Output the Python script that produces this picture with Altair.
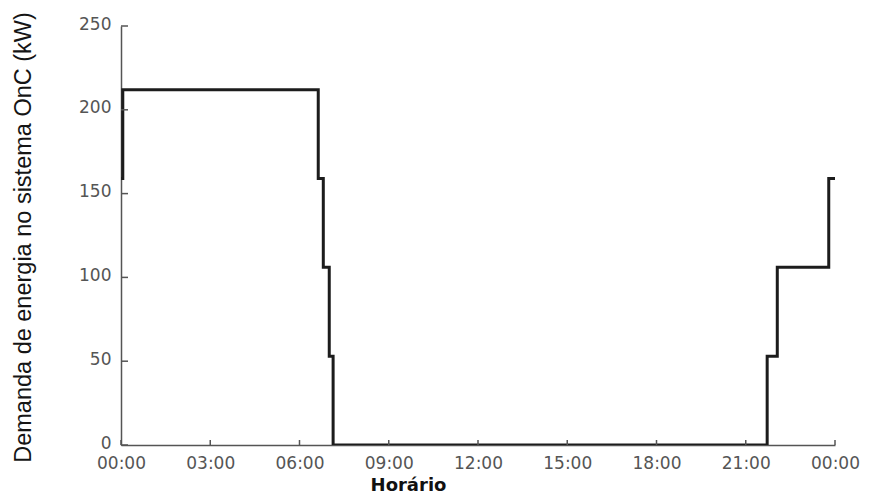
import altair as alt
import pandas as pd

# Step profile of the OnC system demand (hours of day, kW)
hours = [0.0, 0.06, 6.63, 6.80, 7.00, 7.13, 21.72, 22.06, 23.79, 24.0]
demand_kw = [159, 212, 159, 106, 53, 0, 53, 106, 159, 159]

x_ticks = [0, 3, 6, 9, 12, 15, 18, 21, 24]
y_ticks = [0, 50, 100, 150, 200, 250]

df = pd.DataFrame({"h": hours, "kw": demand_kw})
xt = pd.DataFrame({"t": x_ticks})
yt = pd.DataFrame({"v": y_ticks})

W, H = 714, 419
GRAY = "#555555"

x_scale = alt.Scale(domain=[0, 24], nice=False, zero=False)
y_scale = alt.Scale(domain=[0, 250], nice=False)

x_axis = alt.Axis(
    values=x_ticks,
    labelExpr="(datum.value % 24 < 10 ? '0' : '') + (datum.value % 24) + ':00'",
    ticks=False, tickSize=0, grid=False,
    domainColor=GRAY, domainWidth=1.5,
    labelFont="DejaVu Sans", labelFontSize=17, labelColor=GRAY, labelPadding=10,
    labelOverlap=False, labelFlush=False,
    title="Horário", titleFont="DejaVu Sans", titleFontSize=18, titleFontWeight="bold",
    titleColor="#111111", titleX=287, titleY=45, titleBaseline="alphabetic", titleAnchor="start",
    titleAlign="center",
)
y_axis = alt.Axis(
    values=y_ticks,
    ticks=False, tickSize=0, grid=False,
    domainColor=GRAY, domainWidth=1.5,
    labelFont="DejaVu Sans", labelFontSize=17, labelColor=GRAY, labelPadding=10,
    labelOffset=-2,
    labelOverlap=False, labelFlush=False,
    title="Demanda de energia no sistema OnC (kW)",
    titleFont="Liberation Sans", titleFontSize=23.5, titleFontWeight="normal",
    titleColor="#151515", titleAngle=270, titleX=-98, titleY=211,
    titleAlign="center", titleBaseline="middle", titleAnchor="start",
)

line = alt.Chart(df).mark_line(
    interpolate="step-after", color="#1c1c1c", strokeWidth=3, clip=True
).encode(
    x=alt.X("h:Q", scale=x_scale, axis=x_axis),
    y=alt.Y("kw:Q", scale=y_scale, axis=y_axis),
)

xticks = alt.Chart(xt).mark_rule(color=GRAY, strokeWidth=1.5).encode(
    x=alt.X("t:Q", scale=x_scale),
    y=alt.value(H),
    y2=alt.value(H - 5),
)

yticks = alt.Chart(yt).mark_rule(color=GRAY, strokeWidth=1.5).encode(
    y=alt.Y("v:Q", scale=y_scale),
    x=alt.value(0),
    x2=alt.value(7),
)

chart = alt.layer(line, xticks, yticks).properties(
    width=W, height=H,
    autosize=alt.AutoSizeParams(type="none"),
    padding={"left": 113, "top": 18, "right": 27, "bottom": 49},
    background="white",
).configure_view(stroke=None)

chart.save("out.html", embed_options={"renderer": "svg", "actions": False})
